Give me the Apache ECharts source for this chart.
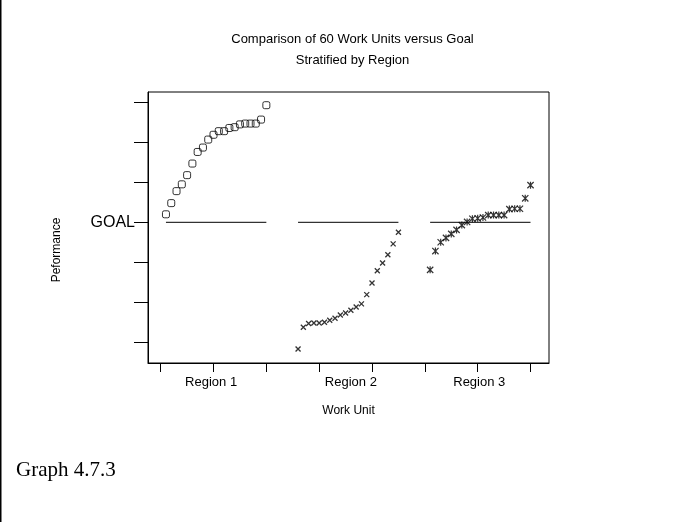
<!DOCTYPE html>
<html>
<head>
<meta charset="utf-8">
<script src="https://cdn.jsdelivr.net/npm/echarts@6/dist/echarts.min.js"></script>
<style>
html,body{margin:0;padding:0;background:#fff;}
#chart{width:686px;height:522px;}
</style>
</head>
<body>
<div id="chart"></div>
<script>
// ---- data ----
const regionLabels = ['Region 1', 'Region 2', 'Region 3'];
const regionLabelPos = [9.55, 36, 60.3];
const xTickValues = [0, 10, 20, 30, 40, 50, 60, 70];
const yTickValues = [0, 1, 2, 3, 4, 5, 6];
const goalValue = 3;
const goalLabel = 'GOAL';

const unitsR1 = [1, 2, 3, 4, 5, 6, 7, 8, 9, 10, 11, 12, 13, 14, 15, 16, 17, 18, 19, 20];
const unitsR2 = [26, 27, 28, 29, 30, 31, 32, 33, 34, 35, 36, 37, 38, 39, 40, 41, 42, 43, 44, 45];
const unitsR3 = [51, 52, 53, 54, 55, 56, 57, 58, 59, 60, 61, 62, 63, 64, 65, 66, 67, 68, 69, 70];

const perfR1 = [3.2, 3.48, 3.78, 3.95, 4.18, 4.47, 4.76, 4.87, 5.07, 5.19, 5.28, 5.28, 5.36, 5.38, 5.45, 5.47, 5.47, 5.47, 5.57, 5.93];
const perfR2 = [-0.17, 0.375, 0.47, 0.48, 0.48, 0.5, 0.55, 0.6, 0.68, 0.73, 0.8, 0.88, 0.96, 1.19, 1.48, 1.79, 1.98, 2.19, 2.46, 2.75];
const perfR3 = [1.81, 2.28, 2.5, 2.61, 2.71, 2.81, 2.93, 3.01, 3.09, 3.1, 3.12, 3.18, 3.18, 3.18, 3.18, 3.33, 3.34, 3.34, 3.6, 3.93];

// ---- build ----
const zip = (xs, ys) => xs.map((x, i) => [x, ys[i]]);
const goalSeg = (xs) => [[xs[0], goalValue], [xs[xs.length - 1], goalValue]];
const FONT = '"Liberation Sans", Arial, sans-serif';

const chart = echarts.init(document.getElementById('chart'), null, {renderer: 'canvas'});
const goalLine = (xs) => ({
  type: 'line', data: goalSeg(xs), symbol: 'none', silent: true,
  lineStyle: {color: '#000', width: 1}, z: 1
});
chart.setOption({
  animation: false,
  backgroundColor: '#fff',
  title: {
    text: 'Comparison of 60 Work Units versus Goal',
    subtext: 'Stratified by Region',
    left: 347.5, textAlign: 'center', top: 28, itemGap: 8,
    textStyle: {fontFamily: FONT, fontSize: 13, fontWeight: 'normal', color: '#000'},
    subtextStyle: {fontFamily: FONT, fontSize: 13, color: '#000'}
  },
  grid: {
    left: 148, top: 92, right: 137, bottom: 159,
    show: true, borderColor: '#000', borderWidth: 1, backgroundColor: 'transparent'
  },
  xAxis: {
    type: 'value', min: -2.4, max: 73.5,
    name: 'Work Unit', nameLocation: 'middle', nameGap: 42,
    nameTextStyle: {fontFamily: FONT, fontSize: 12, color: '#000'},
    axisLine: {show: true, onZero: false, lineStyle: {color: '#000', width: 1}},
    axisTick: {show: true, customValues: xTickValues, length: 9, lineStyle: {color: '#000'}},
    axisLabel: {
      customValues: regionLabelPos, margin: 13,
      fontFamily: FONT, fontSize: 13, color: '#000',
      formatter: (v) => {
        const i = regionLabelPos.findIndex(p => Math.abs(p - v) < 0.01);
        return i >= 0 ? regionLabels[i] : '';
      }
    },
    splitLine: {show: false}
  },
  yAxis: {
    type: 'value', min: -0.52, max: 6.26,
    axisLine: {show: true, onZero: false, lineStyle: {color: '#000', width: 1}},
    axisTick: {show: true, customValues: yTickValues, length: 14, lineStyle: {color: '#000'}},
    axisLabel: {
      customValues: [goalValue], margin: 13,
      fontFamily: FONT, fontSize: 16, color: '#000',
      formatter: () => goalLabel
    },
    splitLine: {show: false}
  },
  graphic: [
    {type: 'rect', shape: {x: 0, y: 0, width: 1.5, height: 522}, style: {fill: '#000'}},
    {type: 'text', x: 57, y: 250, rotation: Math.PI / 2,
     style: {text: 'Peformance', fontFamily: FONT, fontSize: 12, fill: '#000', align: 'center', verticalAlign: 'middle'}},
    {type: 'text', x: 16, y: 470,
     style: {text: 'Graph 4.7.3', fontFamily: '"Liberation Serif", "Times New Roman", serif', fontSize: 21, fill: '#000', align: 'left', verticalAlign: 'middle'}}
  ],
  series: [
    goalLine(unitsR1), goalLine(unitsR2), goalLine(unitsR3),
    {
      type: 'scatter', data: zip(unitsR1, perfR1), symbol: 'roundRect', symbolSize: 7,
      itemStyle: {color: 'rgba(255,255,255,0)', borderColor: '#000', borderWidth: 1}, z: 3
    },
    {
      type: 'scatter', data: zip(unitsR2, perfR2),
      symbol: 'path://M0,0L10,10M10,0L0,10', symbolSize: 5, symbolKeepAspect: true,
      itemStyle: {color: 'none', borderColor: '#000', borderWidth: 1.3}, z: 3
    },
    {
      type: 'scatter', data: zip(unitsR3, perfR3),
      symbol: 'path://M5,0L5,10M0.5,0.5L9.5,9.5M9.5,0.5L0.5,9.5', symbolSize: 7, symbolKeepAspect: true,
      itemStyle: {color: 'none', borderColor: '#000', borderWidth: 1.2}, z: 3
    }
  ]
});
</script>
</body>
</html>
